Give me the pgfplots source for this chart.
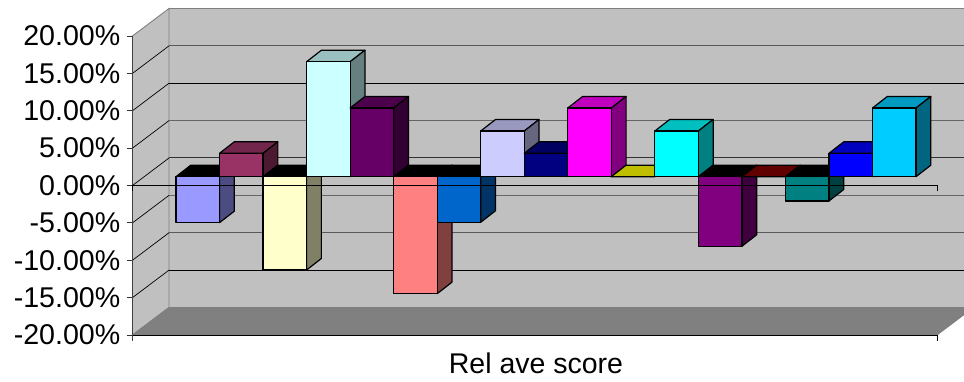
\documentclass[border=0pt]{standalone}
\usepackage{fontspec}
\setmainfont{Liberation Sans}
\usepackage{pgfplots}
\pgfplotsset{compat=1.18}
\definecolor{bA}{HTML}{9999FF}\definecolor{bB}{HTML}{993366}\definecolor{bC}{HTML}{FFFFCC}
\definecolor{bD}{HTML}{CCFFFF}\definecolor{bE}{HTML}{660066}\definecolor{bF}{HTML}{FF8080}
\definecolor{bG}{HTML}{0066CC}\definecolor{bH}{HTML}{CCCCFF}\definecolor{bI}{HTML}{000080}
\definecolor{bJ}{HTML}{FF00FF}\definecolor{bK}{HTML}{FFFF00}\definecolor{bL}{HTML}{00FFFF}
\definecolor{bM}{HTML}{800080}\definecolor{bN}{HTML}{800000}\definecolor{bO}{HTML}{008080}
\definecolor{bP}{HTML}{0000FF}\definecolor{bQ}{HTML}{00CCFF}
\definecolor{wall}{HTML}{C0C0C0}\definecolor{floorc}{HTML}{808080}
% #1 position, #2 value, #3 colour; bars stand one third into the depth of the chart
\newcommand{\tbar}[3]{%
  \pgfmathsetmacro\xa{176+43.53*#1}%
  \pgfmathsetmacro\xb{\xa+43.53}%
  \pgfmathsetmacro\xc{\xa+14.8}%
  \pgfmathsetmacro\xd{\xb+14.8}%
  \pgfmathsetmacro\ya{1.177}%
  \pgfmathsetmacro\yb{#2+1.177}%
  \pgfmathsetmacro\yt{max(\ya,\yb)}%
  \pgfmathsetmacro\yu{\yt+1.54}%
  \pgfmathsetmacro\yc{\ya+1.54}%
  \pgfmathsetmacro\yd{\yb+1.54}%
  \pgfmathtruncatemacro\isneg{#2<0 ? 1 : 0}%
  \pgfmathtruncatemacro\isnil{#2==0 ? 1 : 0}%
  \ifnum\isneg=1
  \addplot[draw=black,line width=1.2pt,line join=round,fill=black] coordinates {(\xa,\yt)(\xc,\yu)(\xd,\yu)(\xb,\yt)} --cycle;
  \else
  \addplot[draw=black,line width=1.2pt,line join=round,fill=#3!75!black] coordinates {(\xa,\yt)(\xc,\yu)(\xd,\yu)(\xb,\yt)} --cycle;
  \fi
  \ifnum\isnil=0
  \addplot[draw=black,line width=1.2pt,line join=round,fill=#3!50!black] coordinates {(\xb,\ya)(\xd,\yc)(\xd,\yd)(\xb,\yb)} --cycle;
  \addplot[draw=black,line width=1.2pt,line join=round,fill=#3] coordinates {(\xa,\ya)(\xa,\yb)(\xb,\yb)(\xb,\ya)} --cycle;
  \fi
}
\newcommand{\backgrid}[3]{%
  \pgfmathsetmacro\yy{#1+3.68}%
  \addplot[draw=#2,line width=#3] coordinates {(169,\yy)(973.5,\yy)};
  \pgfmathsetmacro\yz{#1}%
  \addplot[draw=black,line width=0.7pt] coordinates {(132.5,\yz)(169,\yy)};
  \addplot[draw=black!80,line width=0.8pt] coordinates {(127,\yz)(132.5,\yz)};
}
\begin{document}
\begin{tikzpicture}
\begin{axis}[
  scale only axis, width=964bp, height=382bp,
  xmin=0, xmax=964, ymin=-26.288, ymax=24.816,
  axis line style={draw=none},
  xtick=\empty,
  ytick={-20,-15,-10,-5,0,5,10,15,20},
  major tick style={draw=none},
  /pgf/number format/assume math mode=true,
  yticklabel={\pgfmathprintnumber[fixed,fixed zerofill,precision=2,assume math mode=true]{\tick}\%},
  yticklabel style={font=\fontsize{28.7}{30}\selectfont,anchor=east,inner xsep=0pt,xshift=120.5bp},
  xlabel={Rel ave score},
  xlabel style={font=\fontsize{28.6}{30}\selectfont,at={(axis description cs:0.556,0.021)},anchor=base,inner sep=0pt},
]
% walls and floor
\addplot[draw=none,fill=wall] coordinates {(169,23.68)(973.5,23.68)(973.5,-16.32)(169,-16.32)} --cycle;
\addplot[draw=floorc,line width=0.9pt,fill=wall] coordinates {(132.5,20)(169,23.68)(169,-16.32)(132.5,-20)} --cycle;
\addplot[draw=floorc,line width=0.9pt] coordinates {(169,23.68)(973.5,23.68)};
\addplot[draw=floorc,line width=0.9pt,fill=floorc] coordinates {(132.5,-20)(169,-16.32)(973.5,-16.32)(937,-20)} --cycle;
\addplot[draw=black,line width=0.8pt] coordinates {(132.5,-20)(937,-20)};
% gridlines
\backgrid{15}{black!65}{1.1pt}
\backgrid{10}{black}{0.7pt}
\backgrid{5}{black!60}{1.1pt}
\backgrid{0}{black!80}{1.0pt}
\backgrid{-5}{black!60}{1.1pt}
\backgrid{-10}{black!65}{1.1pt}
\backgrid{-15}{black}{0.7pt}
\addplot[draw=black!80,line width=0.8pt] coordinates {(127,20)(132.5,20)};
\addplot[draw=black!80,line width=0.8pt] coordinates {(127,-20)(132.5,-20)};
\addplot[draw=black!75,line width=0.9pt] coordinates {(132.5,20)(132.5,-20.8)};
\addplot[draw=black,line width=0.7pt] coordinates {(937,-20)(937,-20.8)};
% bars
\tbar{0}{-6.15}{bA}
\tbar{1}{3.13}{bB}
\tbar{2}{-12.48}{bC}
\tbar{3}{15.38}{bD}
\tbar{4}{9.19}{bE}
\tbar{5}{-15.65}{bF}
\tbar{6}{-6.10}{bG}
\tbar{7}{6.11}{bH}
\tbar{8}{3.13}{bI}
\tbar{9}{9.19}{bJ}
\tbar{10}{0}{bK}
\tbar{11}{6.11}{bL}
\tbar{12}{-9.31}{bM}
\tbar{13}{0}{bN}
\tbar{14}{-3.25}{bO}
\tbar{15}{3.13}{bP}
\tbar{16}{9.19}{bQ}
% category axis at zero, in front
\addplot[draw=black,line width=0.7pt] coordinates {(132.5,-0.7)(132.5,0)(937,0)(937,-0.7)};
\end{axis}
\end{tikzpicture}
\end{document}
